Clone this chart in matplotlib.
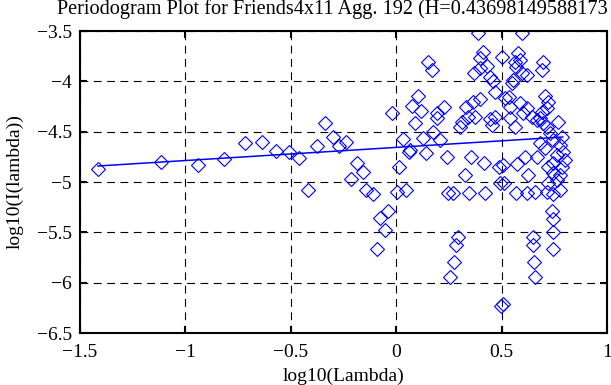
import matplotlib
matplotlib.use("Agg")
import matplotlib.pyplot as plt

plt.rcParams['font.family'] = ['Liberation Serif', 'DejaVu Serif']

# el titulo del original queda cortado en el borde derecho
titulo = "Periodogram Plot for Friends4x11 Agg. 192 (H=0.43698149588173"

# puntos del periodograma (log10 lambda, log10 I(lambda))
log_lambda = [
    -1.416, -1.117, -0.942, -0.817, -0.717, -0.638, -0.572, -0.510, -0.461, -0.417,
    -0.376, -0.338, -0.301, -0.273, -0.238, -0.214, -0.187, -0.159, -0.143, -0.111,
    -0.077, -0.092, -0.053, -0.037, 0.015, 0.002, 0.047, 0.062,
    -0.021, 0.102, 0.074, 0.117, 0.089, 0.152, 0.168, 0.034, 0.066, 0.129,
    0.142, 0.176, 0.195, 0.192, 0.227, 0.208, 0.240, 0.331, 0.342, 0.311,
    0.303, 0.374, 0.366, 0.398, 0.353, 0.326, 0.416, 0.390, 0.413, 0.398,
    0.432, 0.369, 0.398, 0.445, 0.458, 0.469, 0.445, 0.469, 0.453, 0.500,
    0.489, 0.508, 0.516, 0.537, 0.548, 0.556, 0.540, 0.540, 0.564, 0.579,
    0.564, 0.587, 0.569, 0.595, 0.595, 0.619, 0.611, 0.574, 0.627, 0.587,
    0.603, 0.619, 0.643, 0.666, 0.695, 0.690, 0.706, 0.722, 0.714, 0.690,
    0.682, 0.698, 0.714, 0.769, 0.730, 0.745, 0.785, 0.777, 0.793, 0.761,
    0.801, 0.785, 0.745, 0.722, 0.666, 0.706, 0.682, 0.745, 0.777,
    0.247, 0.268, 0.347, 0.421, 0.493, 0.511, 0.569, 0.619, 0.659, 0.714,
    0.742, 0.777, 0.761, 0.722, 0.737, 0.742, 0.742, 0.745, 0.647, 0.647,
    0.654, 0.659, 0.291, 0.284, 0.274, 0.255, 0.505, 0.498,
]
log_periodogram = [
    -4.871, -4.798, -4.831, -4.775, -4.609, -4.603, -4.689, -4.699, -4.765, -5.080,
    -4.639, -4.417, -4.556, -4.639, -4.600, -4.973, -4.808, -4.904, -5.080, -5.119,
    -5.361, -5.669, -5.477, -5.288, -4.854, -5.100, -5.080, -4.699,
    -4.311, -4.146, -4.245, -4.292, -4.411, -3.805, -3.887, -4.576, -4.682, -4.566,
    -4.709, -4.500, -4.367, -4.318, -4.258, -4.583, -4.749, -4.258, -4.351, -4.401,
    -4.451, -4.351, -4.202, -4.179, -4.749, -4.930, -4.808, -3.523, -3.705, -3.771,
    -3.848, -3.921, -3.871, -3.953, -3.996, -4.102, -4.377, -4.351, -4.434, -3.755,
    -4.848, -4.831, -4.169, -4.152, -4.020, -3.987, -4.252, -4.367, -4.451, -3.722,
    -3.805, -3.788, -3.854, -3.523, -3.921, -3.937, -4.749, -4.821, -4.930, -4.218,
    -4.318, -4.268, -4.351, -4.384, -3.805, -3.887, -4.146, -4.202, -4.268, -4.301,
    -4.367, -4.417, -4.451, -4.401, -4.517, -4.583, -4.550, -4.633, -4.699, -4.732,
    -4.781, -4.848, -4.814, -4.848, -4.749, -4.666, -4.616, -4.914, -4.930,
    -5.106, -5.106, -5.106, -5.106, -5.007, -5.007, -5.106, -5.106, -5.096, -5.096,
    -5.119, -5.080, -4.980, -5.013, -5.285, -5.371, -5.494, -5.669, -5.543, -5.626,
    -5.792, -5.947, -5.543, -5.626, -5.792, -5.947, -6.212, -6.230,
]

# recta de ajuste (extremos)
ajuste_x = [-1.415, 0.790]
ajuste_y = [-4.841, -4.553]

xticks = [-1.5, -1, -0.5, 0, 0.5, 1]
yticks = [-6.5, -6, -5.5, -5, -4.5, -4, -3.5]

fig = plt.figure(figsize=(6.11, 3.85), dpi=100)
ax = fig.add_axes([80 / 611, 1 - 333 / 385, 527 / 611, 302 / 385])

ax.plot(log_lambda, log_periodogram, linestyle='none', marker='D',
        markersize=6.8, markerfacecolor='none', markeredgecolor='blue',
        markeredgewidth=0.8)
ax.plot(ajuste_x, ajuste_y, color='blue', linewidth=1.1)

ax.set_xlim(-1.5, 1)
ax.set_ylim(-6.5, -3.5)
ax.set_xticks(xticks)
ax.set_xticklabels(['\u22121.5', '\u22121', '\u22120.5', '0', '0.5', '1'])
ax.set_yticks(yticks)
ax.set_yticklabels(['\u22126.5', '\u22126', '\u22125.5', '\u22125', '\u22124.5', '\u22124', '\u22123.5'])
ax.tick_params(direction='in', length=5, width=1.5, top=True, right=True,
               labelsize=14, pad=6, colors='black')
ax.tick_params(axis='x', pad=8)
ax.grid(True, color='black', linestyle=(0, (7, 5)), linewidth=0.8)
for lado in ax.spines.values():
    lado.set_linewidth(1.5)

ax.set_xlabel('log10(Lambda)', fontsize=14, labelpad=5)
ax.set_ylabel('log10(I(lambda))', fontsize=14, labelpad=9)
fig.text(57 / 611, 1 - 9 / 385, titulo, fontsize=14.6,
         ha='left', va='center')

fig.savefig("out.png")
